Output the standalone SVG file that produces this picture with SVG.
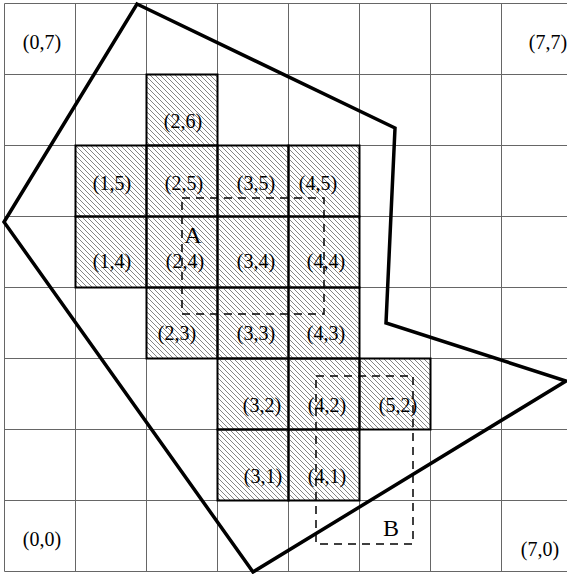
<svg xmlns="http://www.w3.org/2000/svg" width="567" height="574" viewBox="0 0 567 574">
<defs>
<pattern id="hatch" patternUnits="userSpaceOnUse" width="5" height="5">
<path d="M-1,-1 L6,6 M-1,4 L1,6 M4,-1 L6,1" stroke="#666" stroke-width="0.8"/>
</pattern>
</defs>
<style>
.grid{stroke:#666;stroke-width:1;fill:none}
.cell{fill:url(#hatch);stroke:#000;stroke-width:2}
.lbl{font-family:"Liberation Serif",serif;font-size:20px;fill:#000;text-anchor:middle}
.big{font-family:"Liberation Serif",serif;font-size:24px;fill:#000;text-anchor:middle}
.dash{fill:none;stroke:#000;stroke-width:1.5;stroke-dasharray:8,6}
.poly{fill:none;stroke:#000;stroke-width:3.5;stroke-linejoin:miter}
</style>
<rect x="0" y="0" width="567" height="574" fill="#fff"/>
<g id="grid" class="grid">
<path d="M4.5,3.5V571.5M75.5,3.5V571.5M146.5,3.5V571.5M217.5,3.5V571.5M288.5,3.5V571.5M359.5,3.5V571.5M430.5,3.5V571.5M501.5,3.5V571.5M4.5,3.5H572.5M4.5,74.5H572.5M4.5,145.5H572.5M4.5,216.5H572.5M4.5,287.5H572.5M4.5,358.5H572.5M4.5,429.5H572.5M4.5,500.5H572.5M4.5,571.5H572.5"/>
</g>
<g id="cells">
<rect id="c26" class="cell" x="146.5" y="74.5" width="71" height="71"/>
<rect id="c15" class="cell" x="75.5" y="145.5" width="71" height="71"/>
<rect id="c25" class="cell" x="146.5" y="145.5" width="71" height="71"/>
<rect id="c35" class="cell" x="217.5" y="145.5" width="71" height="71"/>
<rect id="c45" class="cell" x="288.5" y="145.5" width="71" height="71"/>
<rect id="c14" class="cell" x="75.5" y="216.5" width="71" height="71"/>
<rect id="c24" class="cell" x="146.5" y="216.5" width="71" height="71"/>
<rect id="c34" class="cell" x="217.5" y="216.5" width="71" height="71"/>
<rect id="c44" class="cell" x="288.5" y="216.5" width="71" height="71"/>
<rect id="c23" class="cell" x="146.5" y="287.5" width="71" height="71"/>
<rect id="c33" class="cell" x="217.5" y="287.5" width="71" height="71"/>
<rect id="c43" class="cell" x="288.5" y="287.5" width="71" height="71"/>
<rect id="c32" class="cell" x="217.5" y="358.5" width="71" height="71"/>
<rect id="c42" class="cell" x="288.5" y="358.5" width="71" height="71"/>
<rect id="c52" class="cell" x="359.5" y="358.5" width="71" height="71"/>
<rect id="c31" class="cell" x="217.5" y="429.5" width="71" height="71"/>
<rect id="c41" class="cell" x="288.5" y="429.5" width="71" height="71"/>
</g>
<g id="labels">
<text class="lbl" x="42" y="49">(0,7)</text>
<text class="lbl" x="548" y="49">(7,7)</text>
<text class="lbl" x="183" y="128">(2,6)</text>
<text class="lbl" x="112" y="190">(1,5)</text>
<text class="lbl" x="184" y="190">(2,5)</text>
<text class="lbl" x="256" y="190">(3,5)</text>
<text class="lbl" x="318" y="190">(4,5)</text>
<text class="lbl" x="112" y="268">(1,4)</text>
<text class="lbl" x="185" y="268">(2,4)</text>
<text class="lbl" x="256" y="268">(3,4)</text>
<text class="lbl" x="326" y="268">(4,4)</text>
<text class="lbl" x="177" y="340">(2,3)</text>
<text class="lbl" x="256" y="340">(3,3)</text>
<text class="lbl" x="326" y="340">(4,3)</text>
<text class="lbl" x="262" y="412">(3,2)</text>
<text class="lbl" x="327" y="412">(4,2)</text>
<text class="lbl" x="398" y="412">(5,2)</text>
<text class="lbl" x="263" y="483">(3,1)</text>
<text class="lbl" x="327" y="483">(4,1)</text>
<text class="lbl" x="42" y="546">(0,0)</text>
<text class="lbl" x="540" y="556">(7,0)</text>
</g>
<g id="regionA">
<rect class="dash" x="182" y="198" width="142" height="116"/>
<text class="big" x="193" y="243">A</text>
</g>
<g id="regionB">
<rect class="dash" x="316" y="376" width="97" height="168"/>
<text class="big" x="391" y="536">B</text>
</g>
<g id="polygon">
<polygon class="poly" points="137,4 395,128 386,323 566,381 253,572 4,222"/>
</g>
</svg>
